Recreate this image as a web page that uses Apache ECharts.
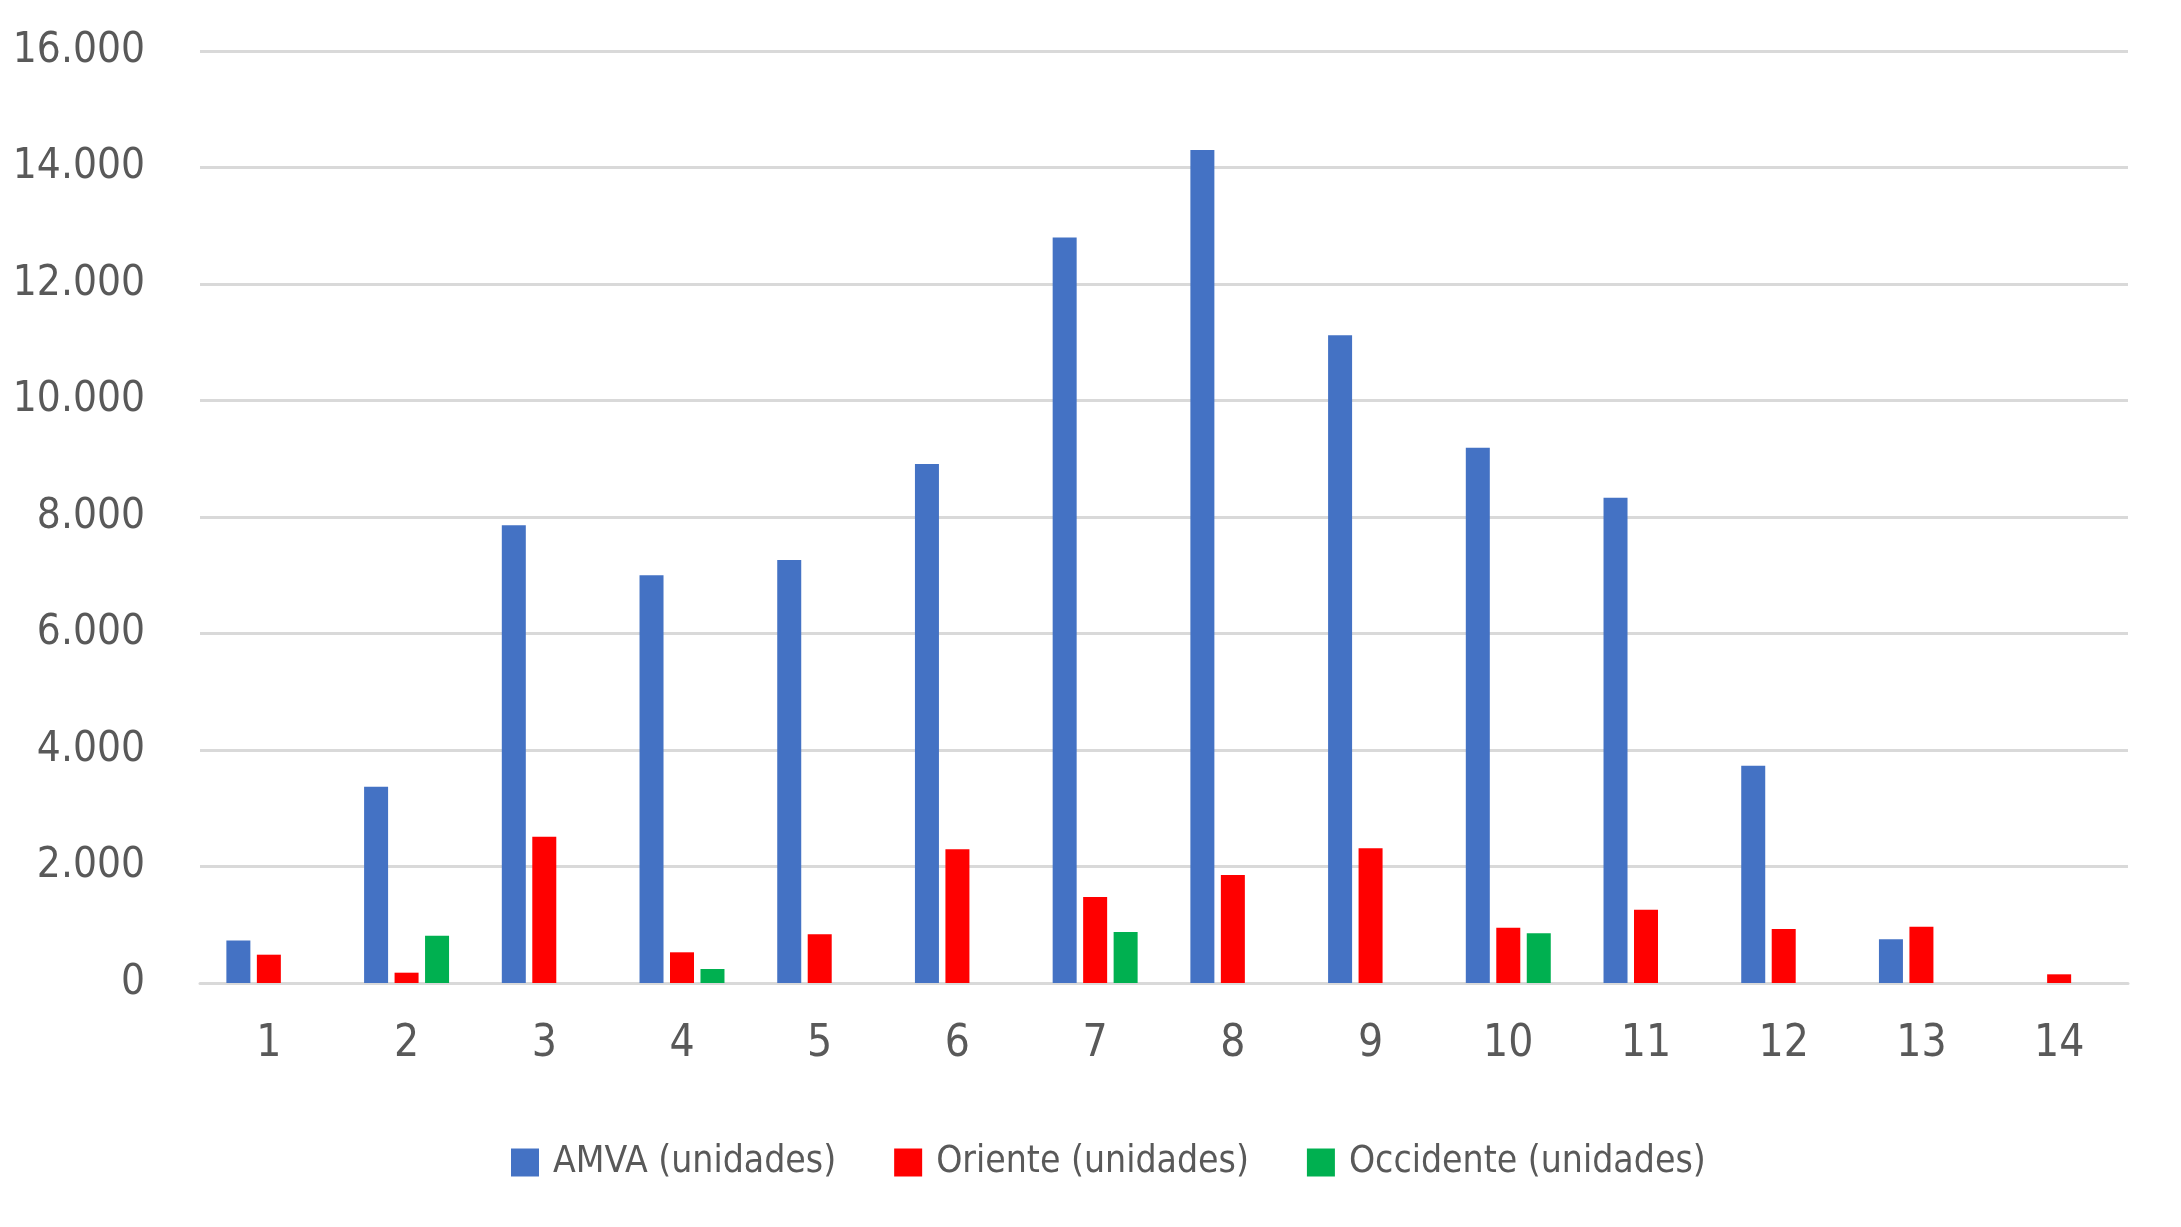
<!DOCTYPE html>
<html>
<head>
<meta charset="utf-8">
<script src="https://cdn.jsdelivr.net/npm/echarts@6/dist/echarts.min.js"></script>
<style>
html,body{margin:0;padding:0;background:#fff;}
#chart{width:2181px;height:1227px;}
</style>
</head>
<body>
<div id="chart"></div>
<script>
const categories = ['1','2','3','4','5','6','7','8','9','10','11','12','13','14'];
const seriesNames = ['AMVA (unidades)', 'Oriente (unidades)', 'Occidente (unidades)'];
const amva = [730, 3370, 7860, 7000, 7260, 8910, 12800, 14300, 11120, 9190, 8330, 3730, 750, null];
const oriente = [486, 177, 2512, 527, 836, 2295, 1476, 1854, 2312, 950, 1259, 927, 967, 149];
const occidente = [null, 812, null, 240, null, null, 876, null, null, 853, null, null, null, null];
const yTicks = [0, 2000, 4000, 6000, 8000, 10000, 12000, 14000, 16000];
const colors = ['#4472C4', '#FF0000', '#00B050'];

const FONT = "'DejaVu Sans Condensed', 'Liberation Sans Narrow', 'Roboto', sans-serif";
const TEXT = '#595959';
const GRID = '#D9D9D9';

function fmt(v) {
  return String(v).replace(/\B(?=(\d{3})+(?!\d))/g, '.');
}

const chart = echarts.init(document.getElementById('chart'), null, {renderer: 'canvas'});
const values = [amva, oriente, occidente];
chart.setOption({
  backgroundColor: '#ffffff',
  animation: false,
  color: colors,
  grid: {left: 200, right: 53, top: 51, bottom: 244, containLabel: false, outerBoundsMode: 'none'},
  legend: {
    data: seriesNames,
    left: 506,
    top: 1139,
    icon: 'rect',
    itemWidth: 28,
    itemHeight: 28,
    itemGap: 58,
    textStyle: {fontFamily: FONT, fontSize: 37, color: TEXT, padding: [0,0,0,9]}
  },
  xAxis: {
    type: 'category',
    data: categories,
    axisLine: {show: true, lineStyle: {color: GRID, width: 3}},
    axisTick: {show: false},
    axisLabel: {fontFamily: FONT, fontSize: 44, color: TEXT, margin: 40}
  },
  yAxis: {
    type: 'value',
    min: yTicks[0],
    max: yTicks[yTicks.length - 1],
    interval: yTicks[1] - yTicks[0],
    axisLine: {show: false},
    axisTick: {show: false},
    splitLine: {show: true, lineStyle: {color: GRID, width: 3}},
    axisLabel: {fontFamily: FONT, fontSize: 42, color: TEXT, margin: 55, padding: [0,0,14,0], formatter: fmt}
  },
  series: seriesNames.map((name, i) => ({
    name: name,
    type: 'bar',
    data: values[i],
    barWidth: 24,
    barGap: '27%',
    itemStyle: {color: colors[i]}
  }))
});
</script>
</body>
</html>
